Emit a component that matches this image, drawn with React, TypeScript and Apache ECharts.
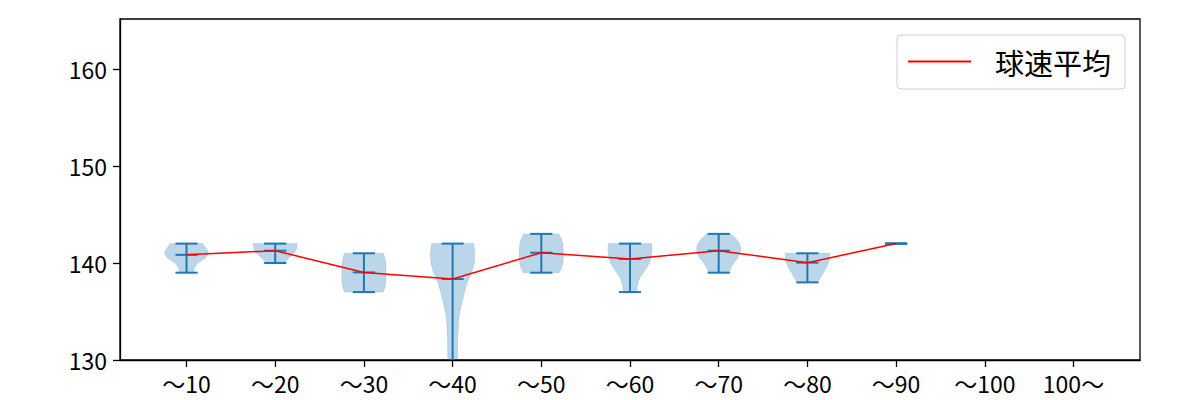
import React, { useEffect, useRef } from "react";
import * as echarts from "echarts";

const categories = ["～10", "～20", "～30", "～40", "～50", "～60", "～70", "～80", "～90", "～100", "100～"];
const meanSpeed = [140.84, 141.27, 139.03, 138.35, 141.06, 140.41, 141.27, 140.03, 142.0];
const minSpeed = [139, 140, 137, 126, 139, 137, 139, 138, 142];
const maxSpeed = [142, 142, 141, 142, 143, 142, 143, 141, 142];
const yTicks = [130, 140, 150, 160];

// violin outline: [speed, relative half-width]
const shape10 = [[139, 0.3], [139.5, 0.36], [140, 0.52], [140.5, 0.85], [141, 1.0], [141.5, 0.9], [142, 0.72]];
const shape20 = [[140, 0.42], [140.5, 0.6], [141, 0.85], [141.5, 0.97], [142, 1.0]];
const shape30 = [[137, 0.88], [137.5, 0.95], [138, 0.99], [139, 1.0], [140, 0.99], [140.5, 0.95], [141, 0.88]];
const shape40 = [[126, 0.08], [127, 0.15], [128, 0.2], [130, 0.22], [132, 0.23], [134, 0.27], [135, 0.33], [136, 0.43], [137, 0.54], [138, 0.66], [139, 0.86], [140, 0.98], [141, 1.0], [142, 0.95]];
const shape50 = [[139, 0.8], [139.5, 0.92], [140, 0.98], [141, 1.0], [142, 0.97], [142.5, 0.9], [143, 0.8]];
const shape60 = [[137, 0.3], [137.5, 0.32], [138, 0.36], [138.5, 0.45], [139, 0.6], [139.5, 0.75], [140, 0.88], [140.5, 0.95], [141, 0.98], [141.5, 1.0], [142, 0.97]];
const shape70 = [[139, 0.45], [139.5, 0.55], [140, 0.68], [140.5, 0.85], [141, 0.97], [141.5, 1.0], [142, 0.95], [142.5, 0.78], [143, 0.55]];
const shape80 = [[138, 0.45], [138.5, 0.6], [139, 0.72], [139.5, 0.85], [140, 0.95], [140.5, 1.0], [141, 1.0]];
const shape90: number[][] = [];
const violinShapes = [shape10, shape20, shape30, shape40, shape50, shape60, shape70, shape80, shape90];

const HALF = 0.25;
const CAP = 0.125;
const BLUE = "#1f77b4";
const FONT = "'Noto Sans CJK JP', 'Noto Sans', sans-serif";

export default function App() {
  const ref = useRef<HTMLDivElement>(null);
  useEffect(() => {
    const chart = echarts.init(ref.current!, null, { renderer: "svg" });
    const option: any = {
      animation: false,
      grid: {
        left: 120, right: 60, top: 19, bottom: 40,
        show: true, borderColor: "#000", borderWidth: 1.3, backgroundColor: "#fff",
      },
      legend: {
        data: [{ name: "球速平均", icon: "rect" }],
        right: 75, top: 35,
        padding: [12, 14, 13, 11],
        borderColor: "#d0d0d0", borderWidth: 1, borderRadius: 4,
        itemWidth: 63, itemHeight: 2,
        itemStyle: { color: "#ff0000" },
        textStyle: { fontSize: 29, color: "#000", fontFamily: FONT, padding: [0, 0, 0, 19] },
      },
      xAxis: {
        type: "value", min: 0.25, max: 11.75,
        splitLine: { show: false },
        axisLine: { show: true, lineStyle: { color: "#000", width: 1.3 } },
        axisTick: { show: true, length: 7, customValues: categories.map((_, i) => i + 1), lineStyle: { color: "#000", width: 1.3 } },
        axisLabel: {
          customValues: categories.map((_, i) => i + 1),
          formatter: (v: number) => categories[Math.round(v) - 1] ?? "",
          fontSize: 23, color: "#000", fontFamily: FONT, margin: 11,
        },
      },
      yAxis: {
        type: "value", min: 130, max: 165.15,
        splitLine: { show: false },
        axisLine: { show: true, lineStyle: { color: "#000", width: 1.3 } },
        axisTick: { show: true, length: 7, customValues: yTicks, lineStyle: { color: "#000", width: 1.3 } },
        axisLabel: { customValues: yTicks, fontSize: 23, color: "#000", fontFamily: FONT, margin: 13 },
      },
      series: [
        {
          type: "custom",
          clip: true,
          data: minSpeed.map((_, i) => [i + 1]),
          renderItem: (params: any, api: any) => {
            const i = params.dataIndex;
            const x = api.value(0);
            const shape = violinShapes[i];
            const children: any[] = [];
            if (shape.length) {
              const right = shape.map(([v, w]) => api.coord([x + w * HALF, v]));
              const left = shape.slice().reverse().map(([v, w]) => api.coord([x - w * HALF, v]));
              children.push({
                type: "polygon",
                shape: { points: right.concat(left) },
                style: { fill: "rgba(31,119,180,0.3)", stroke: "rgba(31,119,180,0.3)", lineWidth: 0.5 },
              });
            }
            const top = api.coord([x, maxSpeed[i]]);
            const bot = api.coord([x, minSpeed[i]]);
            children.push({ type: "line", shape: { x1: top[0], y1: top[1], x2: bot[0], y2: bot[1] }, style: { stroke: BLUE, lineWidth: 2 } });
            [minSpeed[i], maxSpeed[i], meanSpeed[i]].forEach((v) => {
              const a = api.coord([x - CAP, v]);
              const b = api.coord([x + CAP, v]);
              children.push({ type: "line", shape: { x1: a[0], y1: a[1], x2: b[0], y2: b[1] }, style: { stroke: BLUE, lineWidth: 2 } });
            });
            return { type: "group", children };
          },
          z: 2,
        },
        {
          type: "line",
          name: "球速平均",
          data: meanSpeed.map((v, i) => [i + 1, v]),
          symbol: "none",
          showSymbol: false,
          lineStyle: { color: "#ff0000", width: 1.5 },
          itemStyle: { color: "#ff0000" },
          z: 3,
        },
      ],
    };
    chart.setOption(option);
    return () => chart.dispose();
  }, []);
  return (
    <div
      ref={ref}
      style={{ position: "fixed", left: 0, top: 0, width: 1200, height: 400, background: "#fff" }}
    />
  );
}
